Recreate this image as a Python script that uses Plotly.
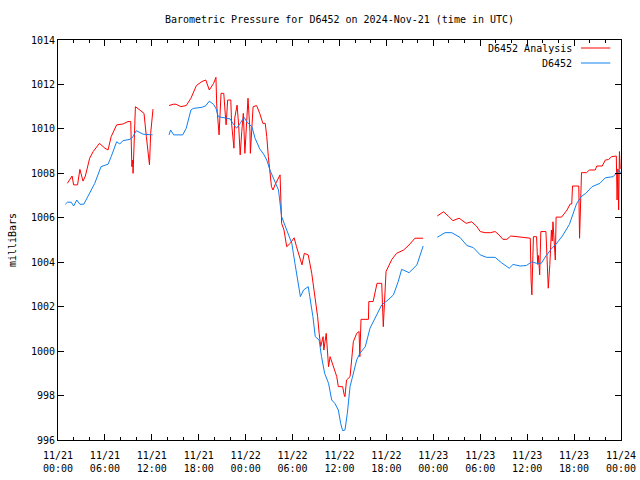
import datetime as dt
import plotly.graph_objects as go

# ---- data (hours since 2024-11-21 00:00 UTC, millibars) ----
analysis_hours = [1.2, 1.8, 2.0, 2.5, 2.8, 3.2, 3.5, 4.05, 4.5, 5.3, 6.0, 6.4, 6.8, 7.5, 8.3, 8.95, 9.3,
                  9.45, 9.55, 9.6, 9.9, 10.65, 11.0, 11.3, 11.6, 11.7, 11.85, 12.15, None,
                  14.2, 14.75, 15.1, 15.7, 16.4, 17.0, 17.7, 18.4, 18.9, 19.35, 19.9, 20.2, 20.3, 20.5,
                  20.6, 20.85, 21.2, 21.4, 21.5, 21.7, 22.1, 22.2, 22.5, 22.6, 22.9, 23.1, 23.3, 23.5,
                  23.7, 23.9, 24.2, 24.3, 24.55, 24.6, 24.95, 25.4, 25.8, 26.2, 26.5, 26.7, 26.9, 27.1,
                  27.3, 27.5, 27.75, 28.4, 28.5, 28.6, 28.9, 29.25, 29.7, 30.2, 30.5, 31.2, 31.5, 32.0,
                  32.45, 32.9, 33.2, 33.4, 33.6, 33.9, 34.0, 34.3, 34.6, 34.8, 35.1, 35.65, 35.85, 36.4,
                  36.6, 36.7, 36.9, 37.35, 37.77, 38.2, 38.5, 38.6, 38.75, 39.7, 39.75, 40.3, 40.8, 41.4,
                  41.6, 41.95, 42.7, 43.3, 44.2, 44.9, 45.65, 46.7, None,
                  48.5, 49.3, 49.9, 50.5, 51.3, 52.2, 52.9, 53.5, 54.0, 54.6, 55.3, 55.9, 56.4, 56.9,
                  57.4, 57.9, 58.7, 59.7, 60.4, 60.5, 60.6, 60.8, 61.2, 61.35, 61.45, 61.6, 61.75, 62.4,
                  62.6, 62.7, 62.9, 63.1, 63.2, 63.3, 63.6, 63.7, 64.4, 65.1, 65.5, 65.7, 65.8, 66.6,
                  66.7, 66.8, 66.95, 67.6, 67.95, 68.7, 68.9, 69.6, 70.0, 70.4, 70.8, 71.4, 71.45, 71.5,
                  71.6, 71.7, 71.8, 71.9]
analysis_mb = [1007.55, 1007.88, 1007.48, 1007.48, 1008.18, 1007.65, 1007.88, 1008.68, 1008.98, 1009.35,
               1009.13, 1009.05, 1009.65, 1010.18, 1010.22, 1010.33, 1010.33, 1008.30, 1008.6, 1008.0,
               1011.0, 1010.78, 1010.70, 1009.65, 1008.60, 1008.38, 1009.80, 1010.89, None,
               1011.05, 1011.11, 1011.11, 1011.0, 1011.05, 1011.38, 1011.95, 1012.13, 1012.2, 1011.75,
               1012.05, 1012.32, 1011.07, 1010.33, 1009.73, 1011.60, 1011.60, 1010.63, 1010.18, 1011.3,
               1011.3, 1010.25, 1009.13, 1010.48, 1011.07, 1010.18, 1008.83, 1009.88, 1010.70, 1008.90,
               1010.78, 1011.38, 1009.88, 1008.90, 1011.0, 1011.05, 1010.7, 1010.25, 1010.25, 1009.65,
               1008.75, 1008.08, 1007.40, 1007.25, 1007.48, 1007.93, 1006.95, 1005.75, 1005.45, 1004.70,
               1004.85, 1005.10, 1004.70, 1003.88, 1004.40, 1004.33, 1003.50, 1002.45, 1001.55, 1000.80,
               1000.20, 1000.65, 1000.05, 1000.80, 999.30, 999.75, 999.45, 998.85, 998.40, 998.40,
               998.03, 997.95, 998.70, 998.85, 1000.42, 1000.80, 1000.88, 999.75, 1001.43, 1001.43,
               1002.23, 1002.23, 1003.05, 1003.05, 1001.10, 1003.58, 1004.13, 1004.40, 1004.55, 1004.78,
               1005.08, 1005.08, None,
               1006.08, 1006.27, 1006.08, 1005.87, 1005.98, 1005.75, 1005.82, 1005.63, 1005.38, 1005.33,
               1005.33, 1005.38, 1005.23, 1005.03, 1005.03, 1005.18, 1005.15, 1005.10, 1005.08, 1003.20,
               1002.53, 1005.15, 1005.15, 1003.9, 1004.3, 1003.43, 1005.38, 1005.38, 1003.50, 1002.83,
               1003.9, 1005.45, 1004.95, 1005.82, 1004.10, 1006.03, 1006.03, 1006.35, 1006.62, 1006.62,
               1007.43, 1007.43, 1005.08, 1006.58, 1008.03, 1008.03, 1008.15, 1008.15, 1008.33, 1008.33,
               1008.60, 1008.62, 1008.75, 1008.78, 1007.63, 1006.80, 1008.2, 1006.35, 1008.98, 1008.2]

obs_hours = [0.94, 1.2, 1.7, 2.0, 2.4, 2.8, 3.3, 3.8, 4.7, 5.5, 6.4, 6.8, 7.5, 7.9, 8.3, 9.2, 9.6, 10.0,
             10.9, 12.1, None,
             14.2, 14.4, 14.8, 15.95, 16.4, 17.0, 17.3, 18.4, 18.9, 19.35, 19.9, 20.2, 20.5, 21.4, 22.0,
             22.5, 22.85, 23.3, 23.8, 24.2, 24.8, 25.2, 25.8, 26.3, 26.7, 27.1, 27.5, 28.2, 28.6, 29.25,
             29.9, 30.3, 30.7, 31.0, 31.4, 32.0, 32.2, 32.6, 32.9, 33.4, 33.7, 34.1, 34.6, 35.0, 35.4,
             35.85, 36.15, 36.4, 36.7, 37.0, 37.35, 37.8, 38.2, 38.6, 39.3, 39.9, 41.4, 42.2, 42.9, 43.5,
             43.95, 44.9, 45.9, 46.7, None,
             48.5, 49.5, 50.35, 51.4, 52.3, 53.1, 54.0, 54.8, 55.9, 56.7, 57.7, 58.2, 59.1, 59.9, 60.6,
             61.2, 61.8, 62.4, 63.1, 63.7, 64.5, 65.4, 66.3, 66.9, 67.5, 68.3, 69.3, 70.0, 71.0, 71.7, 72.0]
obs_mb = [1006.61, 1006.70, 1006.70, 1006.53, 1006.80, 1006.61, 1006.61, 1006.95, 1007.55, 1008.30,
          1008.41, 1008.75, 1009.42, 1009.32, 1009.47, 1009.53, 1009.65, 1009.92, 1009.76, 1009.73, None,
          1009.73, 1009.95, 1009.73, 1009.73, 1010.03, 1010.85, 1010.92, 1010.97, 1011.04, 1011.25,
          1011.10, 1010.92, 1010.55, 1010.50, 1010.45, 1010.18, 1010.03, 1010.25, 1010.52, 1010.29,
          1010.10, 1009.58, 1009.10, 1008.86, 1008.60, 1008.15, 1007.85, 1007.25, 1006.05, 1005.45,
          1004.85, 1003.95, 1003.05, 1002.45, 1002.75, 1002.90, 1002.45, 1001.55, 1000.65, 1000.50,
          999.75, 999.00, 998.55, 997.80, 997.65, 997.35, 996.75, 996.42, 996.45, 997.20, 998.40,
          999.00, 999.60, 999.90, 1000.20, 1001.03, 1002.08, 1002.30, 1002.53, 1003.12, 1003.68,
          1003.53, 1003.88, 1004.73, None,
          1005.12, 1005.33, 1005.33, 1005.12, 1004.75, 1004.66, 1004.33, 1004.22, 1004.22, 1003.98,
          1003.73, 1003.90, 1003.83, 1003.85, 1004.02, 1003.95, 1003.95, 1004.28, 1004.60, 1004.82,
          1005.18, 1005.70, 1006.62, 1006.95, 1007.10, 1007.40, 1007.55, 1007.80, 1007.85, 1008.12,
          1008.03]

series_names = ["D6452 Analysis", "D6452"]
series_colors = ["#ff0000", "#1080f0"]
title_text = "Barometric Pressure for D6452 on 2024-Nov-21 (time in UTC)"
y_label = "milliBars"
start = dt.datetime(2024, 11, 21, 0, 0)
end = dt.datetime(2024, 11, 24, 0, 0)


def to_times(hours):
    return [None if h is None else start + dt.timedelta(hours=h) for h in hours]


FONT = "DejaVu Sans Mono"
fig = go.Figure()
for name, color, hrs, vals in [(series_names[0], series_colors[0], analysis_hours, analysis_mb),
                               (series_names[1], series_colors[1], obs_hours, obs_mb)]:
    fig.add_trace(go.Scatter(x=to_times(hrs), y=vals, mode="lines", name=name,
                             line=dict(color=color, width=1), connectgaps=False,
                             showlegend=False))

# gnuplot-style key: text on the left, sample line on the right
key_y = [0.98, 0.9425]
for name, color, ky in zip(series_names, series_colors, key_y):
    fig.add_annotation(xref="paper", yref="paper", x=0.9165, y=ky, xanchor="right", yanchor="middle",
                       text=name, showarrow=False, font=dict(family=FONT, size=10, color="black"))
    fig.add_shape(type="line", xref="paper", yref="paper", x0=0.929, x1=0.981, y0=ky, y1=ky,
                  line=dict(color=color, width=1))

fig.update_layout(
    width=640, height=480,
    margin=dict(l=58, r=19, t=40, b=40, autoexpand=False),
    paper_bgcolor="white", plot_bgcolor="white",
    font=dict(family=FONT, size=10, color="black"),
    title=dict(text=title_text, x=0.5, xref="paper", xanchor="center",
               y=1 - 19 / 480, yref="container", yanchor="middle",
               font=dict(family=FONT, size=10, color="black")),
)
fig.update_xaxes(
    type="date", range=[start, end], automargin=False,
    tickmode="linear", tick0=start, dtick=6 * 3600 * 1000,
    tickformat="%m/%d<br>%H:%M", ticklabelstandoff=6,
    ticks="inside", ticklen=6, tickcolor="black", tickwidth=1,
    minor=dict(ticks="inside", dtick=2 * 3600 * 1000, ticklen=3, tickcolor="black", tickwidth=1,
               showgrid=False),
    showgrid=False, zeroline=False,
    showline=True, linecolor="black", linewidth=1, mirror="allticks",
    tickfont=dict(family=FONT, size=10, color="black"),
)
fig.update_yaxes(
    range=[996, 1014], tickmode="linear", tick0=996, dtick=2, automargin=False,
    ticks="inside", ticklen=6, tickcolor="black", tickwidth=1,
    showgrid=False, zeroline=False,
    showline=True, linecolor="black", linewidth=1, mirror="allticks",
    title=dict(text=y_label, font=dict(family=FONT, size=10, color="black"), standoff=12),
    tickfont=dict(family=FONT, size=10, color="black"),
)

# remove the default page margin so the 640x480 figure fills the window exactly
fig.write_html("out.html", config={"displayModeBar": False},
               post_script="document.body.style.margin='0px';document.body.style.overflow='hidden';")
